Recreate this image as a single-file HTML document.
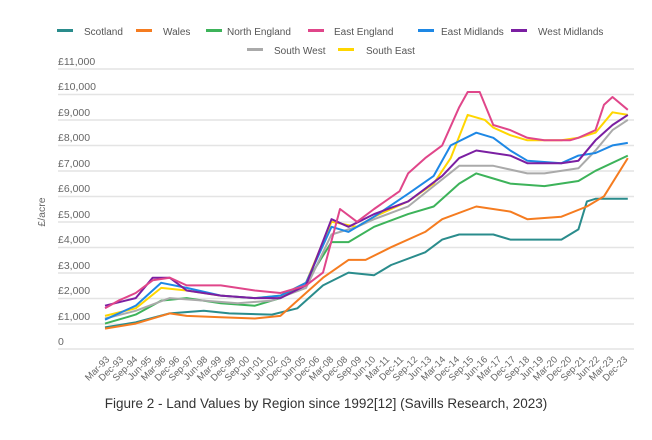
<!DOCTYPE html>
<html><head><meta charset="utf-8"><style>
html,body{margin:0;padding:0;background:#fff;}
body{width:652px;height:435px;overflow:hidden;font-family:"Liberation Sans",sans-serif;}
</style></head><body>
<svg id="s" width="652" height="435" xmlns="http://www.w3.org/2000/svg" font-family="Liberation Sans, sans-serif">
<g stroke="#e4e4e4" stroke-width="1.5">
<line x1="58" x2="634" y1="69" y2="69"/><line x1="58" x2="634" y1="94.5" y2="94.5"/><line x1="58" x2="634" y1="120" y2="120"/><line x1="58" x2="634" y1="145.5" y2="145.5"/><line x1="58" x2="634" y1="171" y2="171"/><line x1="58" x2="634" y1="196.5" y2="196.5"/><line x1="58" x2="634" y1="222" y2="222"/><line x1="58" x2="634" y1="247.5" y2="247.5"/><line x1="58" x2="634" y1="273" y2="273"/><line x1="58" x2="634" y1="298.5" y2="298.5"/><line x1="58" x2="634" y1="324" y2="324"/><line x1="58" x2="634" y1="349" y2="349"/>
</g>
<g fill="#666" font-size="10.5">
<text x="58" y="65">£11,000</text><text x="58" y="90">£10,000</text><text x="58" y="116">£9,000</text><text x="58" y="141">£8,000</text><text x="58" y="167">£7,000</text><text x="58" y="192">£6,000</text><text x="58" y="218">£5,000</text><text x="58" y="243">£4,000</text><text x="58" y="269">£3,000</text><text x="58" y="294">£2,000</text><text x="58" y="320">£1,000</text><text x="58" y="345">0</text>
</g>
<text transform="translate(45,212) rotate(-90)" fill="#666" font-size="10.5" text-anchor="middle">£/acre</text>
<g font-size="10" fill="#555">
<rect x="57" y="29" width="16" height="3" fill="#2a8c8c"/><text x="84" y="35">Scotland</text>
<rect x="136" y="29" width="16" height="3" fill="#f57c20"/><text x="163" y="35">Wales</text>
<rect x="206" y="29" width="16" height="3" fill="#3db35a"/><text x="227" y="35">North England</text>
<rect x="308" y="29" width="16" height="3" fill="#e0468a"/><text x="334" y="35">East England</text>
<rect x="418" y="29" width="16" height="3" fill="#1e88e5"/><text x="441" y="35">East Midlands</text>
<rect x="511" y="29" width="16" height="3" fill="#7b1fa2"/><text x="538" y="35">West Midlands</text>
<rect x="247" y="48" width="16" height="3" fill="#aaaaaa"/><text x="274" y="54">South West</text>
<rect x="338" y="48" width="16" height="3" fill="#ffd600"/><text x="366" y="54">South East</text>
</g>
<g id="lines" fill="none" stroke-width="2" stroke-linejoin="round"></g>
<g fill="#666" font-size="9.5" text-anchor="end">
<text transform="translate(110,360) rotate(-45)">Mar-93</text><text transform="translate(124,360) rotate(-45)">Dec-93</text><text transform="translate(138,360) rotate(-45)">Sep-94</text><text transform="translate(152,360) rotate(-45)">Jun-95</text><text transform="translate(166,360) rotate(-45)">Mar-96</text><text transform="translate(180,360) rotate(-45)">Dec-96</text><text transform="translate(194,360) rotate(-45)">Sep-97</text><text transform="translate(208,360) rotate(-45)">Jun-98</text><text transform="translate(222,360) rotate(-45)">Mar-99</text><text transform="translate(236,360) rotate(-45)">Dec-99</text><text transform="translate(250,360) rotate(-45)">Sep-00</text><text transform="translate(264,360) rotate(-45)">Jun-01</text><text transform="translate(278,360) rotate(-45)">Jun-02</text><text transform="translate(292,360) rotate(-45)">Dec-03</text><text transform="translate(306,360) rotate(-45)">Jun-05</text><text transform="translate(320,360) rotate(-45)">Dec-06</text><text transform="translate(334,360) rotate(-45)">Mar-08</text><text transform="translate(348,360) rotate(-45)">Dec-08</text><text transform="translate(362,360) rotate(-45)">Sep-09</text><text transform="translate(376,360) rotate(-45)">Jun-10</text><text transform="translate(390,360) rotate(-45)">Mar-11</text><text transform="translate(404,360) rotate(-45)">Dec-11</text><text transform="translate(418,360) rotate(-45)">Sep-12</text><text transform="translate(432,360) rotate(-45)">Jun-13</text><text transform="translate(446,360) rotate(-45)">Mar-14</text><text transform="translate(460,360) rotate(-45)">Dec-14</text><text transform="translate(474,360) rotate(-45)">Sep-15</text><text transform="translate(488,360) rotate(-45)">Jun-16</text><text transform="translate(502,360) rotate(-45)">Mar-17</text><text transform="translate(516,360) rotate(-45)">Dec-17</text><text transform="translate(530,360) rotate(-45)">Sep-18</text><text transform="translate(544,360) rotate(-45)">Jun-19</text><text transform="translate(558,360) rotate(-45)">Mar-20</text><text transform="translate(572,360) rotate(-45)">Dec-20</text><text transform="translate(586,360) rotate(-45)">Sep-21</text><text transform="translate(600,360) rotate(-45)">Jun-22</text><text transform="translate(614,360) rotate(-45)">Mar-23</text><text transform="translate(628,360) rotate(-45)">Dec-23</text>
</g>
<text x="326" y="408" text-anchor="middle" fill="#333" font-size="13.5">Figure 2 - Land Values by Region since 1992[12] (Savills Research, 2023)</text>
</svg>
<script>
var S=[
["#2a8c8c",[93.2,850,95,1050,97,1400,99,1500,100.5,1400,103,1350,104.5,1600,106,2500,107.5,3000,109,2900,110,3300,112,3800,113,4300,114,4500,116,4500,117,4300,120,4300,121,4700,121.5,5800,122,5900,123.9,5900]],
["#f57c20",[93.2,800,95,1000,97,1400,98,1300,100,1250,102,1200,103.5,1300,104.5,1900,106,2800,107.5,3500,108.5,3500,110,4000,112,4600,113,5100,115,5600,117,5400,118,5100,120,5200,121.5,5600,122.5,6000,123.9,7500]],
["#3db35a",[93.2,1000,95,1350,96.5,1900,98,2000,100,1800,102,1700,103.5,2000,105,2600,106.5,4200,107.5,4200,109,4800,111,5300,112.5,5600,114,6500,115,6900,116,6700,117,6500,119,6400,121,6600,122,7000,123.9,7600]],
["#aaaaaa",[93.2,1200,95,1500,97,2000,99,1900,101,1800,103,1900,105,2400,106.5,4500,108,4800,109,5100,111,5600,112.5,6400,114,7200,116,7200,118,6900,119,6900,121,7100,122,7800,123,8600,123.9,9000]],
["#ffd600",[93.2,1300,95,1600,96.5,2400,98,2300,100,2100,102,2000,103.5,2100,105,2600,106.5,5000,108,4800,109,5200,111,5800,112.5,6500,113.5,7500,114.5,9200,115.5,9000,116,8700,117,8400,118,8200,120,8200,121,8300,122,8500,123,9300,123.9,9200]],
["#1e88e5",[93.2,1150,95,1700,96.5,2600,98,2400,100,2100,102,2000,103.5,2100,105,2600,106.5,4800,107.5,4600,109,5200,111,6100,112.5,6800,113.5,8000,115,8500,116,8300,117,7800,118,7400,120,7300,121,7600,122,7700,123,8000,123.9,8100]],
["#7b1fa2",[93.2,1700,95,2000,96,2800,97,2800,98,2300,100,2100,102,2000,103.5,2000,105,2500,106.5,5100,107.5,4800,109,5300,111,5800,112,6300,113,6800,114,7500,115,7800,117,7600,118,7300,120,7300,121,7400,122,8200,123,8800,123.9,9200]],
["#e0468a",[93.2,1600,94,1900,95,2200,96,2700,97,2800,98,2500,100,2500,102,2300,103.5,2200,105,2500,106,3000,107,5500,108,5000,109,5500,110.5,6200,111,6900,112,7500,113,8000,114,9500,114.5,10100,115.2,10100,116,8800,117,8600,118,8300,119,8200,120.5,8200,121,8300,122,8600,122.5,9600,123,9900,123.9,9400]]];
var g=document.getElementById('lines'),ns="http://www.w3.org/2000/svg";
S.forEach(function(s){var d=s[1],p=[];for(var i=0;i<d.length;i+=2){p.push((105+(d[i]-93.2)*17.03).toFixed(1)+","+(349-d[i+1]*0.02545).toFixed(1));}
var l=document.createElementNS(ns,"polyline");l.setAttribute("points",p.join(" "));l.setAttribute("stroke",s[0]);g.appendChild(l);});
</script>
</body></html>
